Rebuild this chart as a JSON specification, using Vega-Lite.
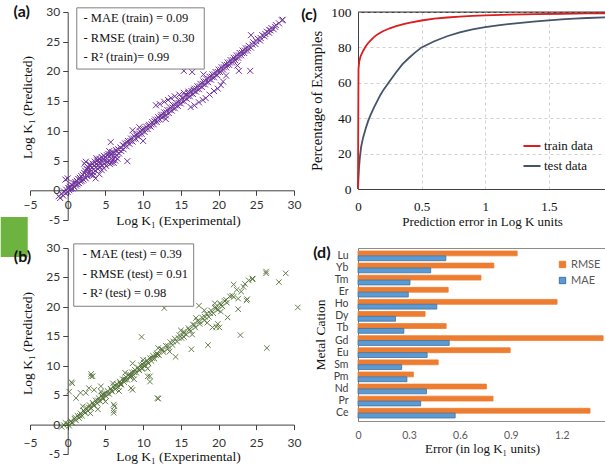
{
"$schema": "https://vega.github.io/schema/vega-lite/v6.json",
"padding": {"left": 0, "top": 4, "right": 0, "bottom": 0},
"background": "white",
"bounds": "flush",
"columns": 2,
"spacing": {"row": 28, "column": 64},
"config": {"view": {"stroke": null}, "axis": {"titleFontWeight": "normal", "labelColor": "#222222", "titleColor": "#111111", "labelFlush": false, "labelOverlap": false, "tickCount": 20}},
"datasets": {
"ylabels": [{"v":-5,"lab":"-5"},{"v":0,"lab":"0"},{"v":5,"lab":"5"},{"v":10,"lab":"10"},{"v":15,"lab":"15"},{"v":20,"lab":"20"},{"v":25,"lab":"25"},{"v":30,"lab":"30"}],
"train": [
{"x":-1.2,"y":-1.0},{"x":-1.0,"y":-1.3},{"x":-0.8,"y":-0.6},{"x":-0.6,"y":-0.9},{"x":-0.5,"y":-0.2},{"x":-0.3,"y":-0.5},{"x":-0.2,"y":0.1},{"x":0,"y":-0.3},{"x":0.1,"y":0.4},{"x":0.2,"y":0.0},{"x":0.3,"y":0.6},{"x":0.4,"y":0.2},{"x":0.5,"y":0.9},{"x":0.6,"y":0.3},{"x":0.7,"y":0.8},{"x":0.8,"y":1.2},{"x":0.9,"y":0.5},{"x":1.0,"y":1.4},{"x":1.1,"y":0.8},{"x":1.2,"y":1.6},{"x":1.3,"y":1.0},{"x":1.4,"y":1.9},{"x":1.5,"y":1.2},{"x":1.6,"y":2.1},{"x":1.7,"y":1.5},{"x":1.8,"y":2.4},{"x":1.9,"y":1.6},{"x":2.0,"y":2.6},{"x":2.1,"y":1.8},
{"x":2.2,"y":2.9},{"x":2.3,"y":3.3},{"x":2.4,"y":2.0},{"x":2.5,"y":3.6},{"x":2.6,"y":2.4},{"x":2.7,"y":3.9},{"x":2.8,"y":2.7},{"x":2.9,"y":3.4},{"x":3.0,"y":4.2},{"x":3.1,"y":2.6},{"x":3.2,"y":3.8},{"x":3.3,"y":4.5},{"x":3.4,"y":3.0},{"x":3.5,"y":4.1},{"x":3.6,"y":4.8},{"x":3.7,"y":3.3},{"x":3.8,"y":4.4},{"x":3.9,"y":5.0},{"x":4.0,"y":3.6},{"x":4.1,"y":4.7},{"x":4.2,"y":5.3},{"x":4.3,"y":3.9},{"x":4.4,"y":5.0},{"x":4.5,"y":5.6},{"x":4.6,"y":4.2},{"x":4.7,"y":5.2},{"x":4.8,"y":5.8},{"x":4.9,"y":4.5},{"x":5.0,"y":5.5},{"x":5.1,"y":4.1},{"x":5.2,"y":5.9},{"x":5.3,"y":4.8},{"x":5.4,"y":6.1},{"x":5.5,"y":5.0},{"x":5.6,"y":4.4},{"x":5.7,"y":6.0},{"x":5.8,"y":5.3},{"x":5.9,"y":6.4},{"x":6.0,"y":5.1},{"x":6.1,"y":4.6},{"x":6.2,"y":6.3},{"x":6.3,"y":5.6},{"x":6.4,"y":6.8},{"x":6.5,"y":5.9},{"x":6.6,"y":5.3},{"x":6.7,"y":6.9},{"x":6.8,"y":6.2},{"x":7.0,"y":7.2},{"x":7.1,"y":6.6},{"x":7.3,"y":7.6},{"x":7.4,"y":6.9},
{"x":7.6,"y":7.9},{"x":7.8,"y":7.4},{"x":8.0,"y":8.3},{"x":8.2,"y":7.8},{"x":8.4,"y":8.7},{"x":8.6,"y":8.2},{"x":8.8,"y":9.1},{"x":9.0,"y":8.7},{"x":9.2,"y":9.5},{"x":9.4,"y":9.0},{"x":9.6,"y":9.9},{"x":9.8,"y":9.5},{"x":10.0,"y":10.3},{"x":10.2,"y":9.8},{"x":10.4,"y":10.7},{"x":10.6,"y":10.3},{"x":10.8,"y":11.0},{"x":11.0,"y":10.7},{"x":11.2,"y":11.5},{"x":11.4,"y":11.1},{"x":11.6,"y":11.9},{"x":11.8,"y":11.5},{"x":12.0,"y":12.3},
{"x":12.2,"y":11.9},{"x":12.4,"y":12.7},{"x":12.6,"y":12.3},{"x":12.8,"y":13.1},{"x":13.0,"y":12.6},{"x":13.2,"y":13.5},{"x":13.4,"y":13.0},{"x":13.6,"y":13.9},{"x":13.8,"y":13.4},{"x":14.0,"y":14.3},{"x":14.2,"y":13.8},{"x":14.4,"y":14.7},{"x":14.6,"y":14.2},{"x":14.8,"y":15.1},{"x":15.0,"y":14.6},{"x":15.2,"y":15.5},{"x":15.4,"y":15.0},{"x":15.6,"y":15.9},{"x":15.8,"y":15.4},{"x":16.0,"y":16.3},{"x":16.2,"y":15.8},{"x":16.4,"y":16.7},{"x":16.6,"y":16.2},{"x":16.8,"y":17.1},{"x":17.0,"y":16.6},{"x":17.2,"y":17.5},{"x":17.4,"y":17.0},{"x":17.6,"y":17.9},{"x":17.8,"y":17.4},{"x":18.0,"y":18.3},{"x":18.2,"y":17.8},{"x":18.4,"y":18.7},{"x":18.6,"y":18.2},{"x":18.8,"y":19.1},{"x":19.0,"y":18.6},{"x":19.2,"y":19.5},{"x":19.4,"y":19.0},{"x":19.6,"y":19.9},{"x":19.8,"y":19.4},{"x":20.0,"y":20.3},
{"x":20.2,"y":19.9},{"x":20.4,"y":20.7},{"x":20.6,"y":20.3},{"x":20.8,"y":21.1},{"x":21.0,"y":20.7},{"x":21.2,"y":21.5},{"x":21.4,"y":21.1},{"x":21.6,"y":21.9},{"x":21.8,"y":21.5},{"x":22.0,"y":22.3},{"x":22.2,"y":21.9},{"x":22.4,"y":22.7},{"x":22.6,"y":22.3},{"x":22.8,"y":23.1},{"x":23.0,"y":22.7},{"x":23.2,"y":23.5},{"x":23.4,"y":23.1},{"x":23.6,"y":23.9},{"x":23.8,"y":23.5},{"x":24.0,"y":24.3},{"x":24.3,"y":24.0},{"x":24.6,"y":24.9},{"x":24.9,"y":24.6},{"x":25.2,"y":25.5},{"x":25.5,"y":25.2},{"x":25.8,"y":26.1},{"x":26.1,"y":25.9},{"x":26.4,"y":26.7},{"x":26.7,"y":26.5},{"x":27.0,"y":27.3},{"x":27.3,"y":27.1},{"x":27.6,"y":27.8},{"x":28.0,"y":28.1},{"x":28.4,"y":28.6},
{"x":0.15,"y":0.3},{"x":0.45,"y":0.5},{"x":0.75,"y":0.7},{"x":1.05,"y":1.1},{"x":1.35,"y":1.3},{"x":1.65,"y":1.8},{"x":1.95,"y":2.0},{"x":2.25,"y":2.3},{"x":2.55,"y":2.6},{"x":2.85,"y":3.0},{"x":3.15,"y":3.2},{"x":3.45,"y":3.5},{"x":3.75,"y":3.9},{"x":4.05,"y":4.1},{"x":4.35,"y":4.4},{"x":4.65,"y":4.8},{"x":4.95,"y":5.0},{"x":5.25,"y":5.3},{"x":5.55,"y":5.7},{"x":5.85,"y":5.9},{"x":6.15,"y":6.2},{"x":6.45,"y":6.5},{"x":6.75,"y":6.8},{"x":7.05,"y":7.1},{"x":7.45,"y":7.5},{"x":7.9,"y":8.0},{"x":8.3,"y":8.3},{"x":8.7,"y":8.7},{"x":9.1,"y":9.2},{"x":9.5,"y":9.5},{"x":9.9,"y":10.0},{"x":10.3,"y":10.3},{"x":10.7,"y":10.8},{"x":11.1,"y":11.1},{"x":11.5,"y":11.6},{"x":11.9,"y":11.9},{"x":12.3,"y":12.4},{"x":12.7,"y":12.7},{"x":13.1,"y":13.1},{"x":13.5,"y":13.5},{"x":13.9,"y":13.9},{"x":14.3,"y":14.3},{"x":14.7,"y":14.7},{"x":15.1,"y":15.1},{"x":15.5,"y":15.5},{"x":15.9,"y":15.9},{"x":16.3,"y":16.3},{"x":16.7,"y":16.7},{"x":17.1,"y":17.1},{"x":17.5,"y":17.5},{"x":17.9,"y":17.9},{"x":18.3,"y":18.3},{"x":18.7,"y":18.7},{"x":19.1,"y":19.1},{"x":19.5,"y":19.5},{"x":19.9,"y":19.9},{"x":20.3,"y":20.3},{"x":20.7,"y":20.7},{"x":21.1,"y":21.1},{"x":21.5,"y":21.5},{"x":21.9,"y":21.9},{"x":22.3,"y":22.3},{"x":22.7,"y":22.7},{"x":23.1,"y":23.1},{"x":23.5,"y":23.5},{"x":23.9,"y":23.9},{"x":24.5,"y":24.5},{"x":25.0,"y":25.1},{"x":25.6,"y":25.6},{"x":26.2,"y":26.3},{"x":26.9,"y":26.9},{"x":27.5,"y":27.5},
{"x":2.6,"y":3.5},{"x":3.4,"y":2.5},{"x":4.0,"y":5.1},{"x":4.8,"y":3.7},{"x":5.5,"y":6.6},{"x":6.3,"y":5.0},{"x":2.9,"y":4.4},{"x":4.5,"y":3.4},{"x":5.8,"y":4.6},{"x":3.8,"y":5.4},
{"x":11.7,"y":14.3},{"x":12.2,"y":14.5},{"x":12.8,"y":14.9},{"x":13.3,"y":15.2},{"x":13.7,"y":15.5},{"x":14.2,"y":15.8},{"x":14.8,"y":16.1},{"x":15.4,"y":16.4},{"x":16.0,"y":16.6},{"x":16.7,"y":16.9},
{"x":16.3,"y":14.0},{"x":16.8,"y":14.3},{"x":17.4,"y":14.8},{"x":17.9,"y":15.2},{"x":18.3,"y":15.5},{"x":18.8,"y":16.1},{"x":19.4,"y":16.7},{"x":19.9,"y":17.1},{"x":20.3,"y":17.7},{"x":20.6,"y":18.3},
{"x":15.4,"y":20.1},{"x":16.5,"y":19.9},{"x":22.7,"y":20.1},{"x":24.2,"y":20.1},{"x":0.0,"y":2.0},{"x":-0.3,"y":1.8},{"x":2.4,"y":4.8},{"x":3.7,"y":2.0},{"x":4.2,"y":2.7},{"x":5.7,"y":8.1},{"x":10.0,"y":8.3},{"x":8.6,"y":10.1},{"x":7.9,"y":4.9},{"x":2.2,"y":4.5},{"x":24.3,"y":26.1},{"x":26.7,"y":27.0},{"x":28.5,"y":28.7},{"x":21.0,"y":19.3},{"x":22.5,"y":21.0},{"x":18.0,"y":19.5},{"x":13.0,"y":12.0},{"x":9.5,"y":10.6}
],
"test": [
{"x":-0.8,"y":-0.4},{"x":-0.5,"y":-0.1},{"x":-0.3,"y":0.3},{"x":0,"y":0.1},{"x":0.2,"y":-0.2},{"x":0.4,"y":0.6},{"x":0.6,"y":0.3},{"x":0.9,"y":1.0},{"x":1.1,"y":0.7},{"x":1.3,"y":1.5},{"x":1.5,"y":1.1},{"x":1.7,"y":1.9},{"x":1.9,"y":1.5},{"x":2.1,"y":2.4},{"x":2.3,"y":2.0},{"x":2.5,"y":2.8},{"x":2.7,"y":2.3},{"x":2.9,"y":3.3},{"x":3.1,"y":2.8},{"x":3.3,"y":3.7},{"x":3.5,"y":3.2},{"x":3.7,"y":4.1},{"x":3.9,"y":3.6},{"x":4.1,"y":4.5},{"x":4.3,"y":4.0},{"x":4.5,"y":4.9},{"x":4.7,"y":4.4},{"x":4.9,"y":5.3},{"x":5.1,"y":4.8},{"x":5.3,"y":5.7},{"x":5.5,"y":5.2},{"x":5.7,"y":6.1},{"x":5.9,"y":5.6},{"x":6.1,"y":6.5},{"x":6.3,"y":6.0},{"x":6.5,"y":6.9},{"x":6.7,"y":6.4},{"x":6.9,"y":7.3},{"x":7.1,"y":6.8},{"x":7.3,"y":7.7},{"x":7.5,"y":7.2},{"x":7.7,"y":8.1},{"x":7.9,"y":7.6},{"x":8.1,"y":8.5},{"x":8.3,"y":8.0},{"x":8.5,"y":8.9},{"x":8.7,"y":8.4},{"x":8.9,"y":9.3},{"x":9.1,"y":8.8},{"x":9.3,"y":9.7},{"x":9.5,"y":9.2},{"x":9.7,"y":10.1},{"x":9.9,"y":9.6},{"x":10.1,"y":10.5},{"x":10.3,"y":10.0},{"x":10.5,"y":10.9},{"x":10.7,"y":10.4},{"x":10.9,"y":11.3},{"x":11.1,"y":10.8},{"x":11.3,"y":11.7},{"x":11.5,"y":11.2},{"x":11.8,"y":12.1},{"x":12.1,"y":11.8},{"x":12.4,"y":12.8},{"x":12.7,"y":12.3},{"x":13.0,"y":13.4},{"x":13.3,"y":12.9},{"x":13.6,"y":14.0},{"x":13.9,"y":13.5},{"x":14.2,"y":14.6},{"x":14.5,"y":14.1},{"x":14.8,"y":15.2},{"x":15.1,"y":14.7},{"x":15.4,"y":15.8},{"x":15.7,"y":15.3},{"x":16.0,"y":16.4},{"x":16.3,"y":15.9},{"x":16.6,"y":17.0},{"x":16.9,"y":16.5},{"x":17.2,"y":17.6},{"x":17.5,"y":17.1},{"x":17.8,"y":18.2},{"x":18.1,"y":17.7},{"x":18.4,"y":18.8},{"x":18.7,"y":18.3},{"x":19.0,"y":19.4},{"x":19.3,"y":18.9},{"x":19.6,"y":20.0},{"x":19.9,"y":19.5},{"x":20.2,"y":20.6},{"x":20.5,"y":20.1},{"x":20.8,"y":21.0},{"x":21.1,"y":20.7},{"x":21.5,"y":21.8},{"x":22.0,"y":21.7},{"x":22.4,"y":22.9},{"x":23.0,"y":22.6},{"x":23.5,"y":23.9},{"x":24.0,"y":24.5},{"x":24.5,"y":24.8},{"x":23.3,"y":23.4},
{"x":0.5,"y":0.4},{"x":1.0,"y":1.2},{"x":1.6,"y":1.5},{"x":2.2,"y":2.2},{"x":2.8,"y":2.9},{"x":3.4,"y":3.4},{"x":4.0,"y":4.1},{"x":4.6,"y":4.6},{"x":5.2,"y":5.3},{"x":5.8,"y":5.8},{"x":6.4,"y":6.5},{"x":7.0,"y":7.0},{"x":7.6,"y":7.7},{"x":8.2,"y":8.2},{"x":8.8,"y":8.9},{"x":9.4,"y":9.4},{"x":10.0,"y":10.1},{"x":10.6,"y":10.6},{"x":11.2,"y":11.3},{"x":11.9,"y":11.9},{"x":12.6,"y":12.7},{"x":13.3,"y":13.3},{"x":14.0,"y":14.1},{"x":14.7,"y":14.7},{"x":15.4,"y":15.5},{"x":16.1,"y":16.1},{"x":16.8,"y":16.9},{"x":17.5,"y":17.5},{"x":18.2,"y":18.3},{"x":18.9,"y":18.9},{"x":19.6,"y":19.7},{"x":20.3,"y":20.3},{"x":21.0,"y":21.2},{"x":21.8,"y":21.9},
{"x":2.0,"y":3.1},{"x":3.0,"y":1.9},{"x":4.4,"y":5.6},{"x":5.0,"y":3.9},{"x":6.0,"y":7.0},{"x":6.8,"y":5.7},{"x":7.6,"y":8.8},{"x":8.8,"y":7.7},{"x":10.0,"y":11.0},{"x":10.6,"y":9.5},{"x":12.0,"y":13.0},{"x":13.5,"y":12.4},{"x":15.0,"y":16.0},{"x":16.5,"y":15.3},{"x":17.0,"y":18.1},{"x":18.5,"y":17.3},{"x":19.5,"y":20.6},{"x":20.3,"y":19.2},
{"x":26.3,"y":26.0},{"x":26.3,"y":25.7},{"x":28.9,"y":25.7},{"x":28.0,"y":24.2},{"x":30.5,"y":19.9},{"x":24.5,"y":24.7},{"x":22.6,"y":21.4},{"x":23.7,"y":21.1},{"x":22.6,"y":19.6},{"x":22.9,"y":15.2},{"x":26.4,"y":13.0},{"x":19.9,"y":17.1},{"x":19.7,"y":16.6},{"x":18.6,"y":13.5},{"x":16.4,"y":12.8},{"x":14.3,"y":11.5},{"x":12.8,"y":19.8},{"x":12.0,"y":4.4},{"x":9.8,"y":9.5},{"x":10.9,"y":8.2},{"x":9.8,"y":14.9},{"x":8.4,"y":8.4},{"x":8.6,"y":5.9},{"x":6.1,"y":2.0},{"x":6.2,"y":3.1},{"x":4.0,"y":2.6},{"x":3.1,"y":8.2},{"x":3.1,"y":8.6},{"x":2.8,"y":6.2},{"x":1.7,"y":5.4},{"x":0.5,"y":7.2},{"x":0.2,"y":5.6},{"x":1.1,"y":4.5},{"x":4.6,"y":5.1},{"x":7.0,"y":6.8},{"x":7.5,"y":7.6},{"x":17.4,"y":20.2},{"x":18.1,"y":19.4},{"x":22.0,"y":23.8},{"x":23.8,"y":21.3},{"x":21.2,"y":18.2},{"x":20.1,"y":16.5},{"x":19.2,"y":16.5},{"x":15.4,"y":14.9},{"x":8.6,"y":10.4},{"x":3.3,"y":8.2},{"x":0.6,"y":7.0},{"x":2.4,"y":5.4},{"x":3.5,"y":5.9},{"x":4.4,"y":6.5},{"x":8.4,"y":6.2},{"x":6.1,"y":3.4},{"x":6.1,"y":2.4},{"x":10.6,"y":8.2},{"x":10.9,"y":7.3},{"x":11.9,"y":4.5},{"x":11.7,"y":11.8}
],
"cdf": [
{"s":"test data","e":0,"p":0},{"s":"test data","e":0.003,"p":5},{"s":"test data","e":0.008,"p":12},{"s":"test data","e":0.015,"p":18},{"s":"test data","e":0.025,"p":24},{"s":"test data","e":0.04,"p":29},{"s":"test data","e":0.06,"p":34},{"s":"test data","e":0.08,"p":38.5},{"s":"test data","e":0.1,"p":42},{"s":"test data","e":0.125,"p":46},{"s":"test data","e":0.15,"p":49.5},{"s":"test data","e":0.175,"p":53},{"s":"test data","e":0.2,"p":56},{"s":"test data","e":0.25,"p":61},{"s":"test data","e":0.3,"p":66},{"s":"test data","e":0.35,"p":70.5},{"s":"test data","e":0.4,"p":74},{"s":"test data","e":0.45,"p":77.2},{"s":"test data","e":0.5,"p":80},{"s":"test data","e":0.6,"p":83.5},{"s":"test data","e":0.7,"p":86.3},{"s":"test data","e":0.8,"p":88.5},{"s":"test data","e":0.9,"p":90.2},{"s":"test data","e":1.0,"p":91.5},{"s":"test data","e":1.1,"p":92.5},{"s":"test data","e":1.2,"p":93.3},{"s":"test data","e":1.3,"p":94},{"s":"test data","e":1.4,"p":94.7},{"s":"test data","e":1.5,"p":95.3},{"s":"test data","e":1.6,"p":95.8},{"s":"test data","e":1.7,"p":96.2},{"s":"test data","e":1.8,"p":96.6},{"s":"test data","e":1.95,"p":97},
{"s":"train data","e":0,"p":0},{"s":"train data","e":0.002,"p":40},{"s":"train data","e":0.004,"p":68},{"s":"train data","e":0.01,"p":72},{"s":"train data","e":0.02,"p":75},{"s":"train data","e":0.04,"p":78},{"s":"train data","e":0.06,"p":80.5},{"s":"train data","e":0.08,"p":82.5},{"s":"train data","e":0.1,"p":84},{"s":"train data","e":0.125,"p":85.8},{"s":"train data","e":0.15,"p":87.2},{"s":"train data","e":0.175,"p":88.3},{"s":"train data","e":0.2,"p":89.3},{"s":"train data","e":0.25,"p":90.8},{"s":"train data","e":0.3,"p":92},{"s":"train data","e":0.35,"p":93},{"s":"train data","e":0.4,"p":93.8},{"s":"train data","e":0.5,"p":95.2},{"s":"train data","e":0.6,"p":96.2},{"s":"train data","e":0.7,"p":96.9},{"s":"train data","e":0.8,"p":97.4},{"s":"train data","e":0.9,"p":97.8},{"s":"train data","e":1.0,"p":98.1},{"s":"train data","e":1.2,"p":98.5},{"s":"train data","e":1.4,"p":98.8},{"s":"train data","e":1.6,"p":99},{"s":"train data","e":1.8,"p":99.2},{"s":"train data","e":1.95,"p":99.3}
],
"errors": [
{"cation":"Lu","metric":"RMSE","value":0.937},{"cation":"Lu","metric":"MAE","value":0.517},
{"cation":"Yb","metric":"RMSE","value":0.80},{"cation":"Yb","metric":"MAE","value":0.428},
{"cation":"Tm","metric":"RMSE","value":0.724},{"cation":"Tm","metric":"MAE","value":0.306},
{"cation":"Er","metric":"RMSE","value":0.531},{"cation":"Er","metric":"MAE","value":0.296},
{"cation":"Ho","metric":"RMSE","value":1.172},{"cation":"Ho","metric":"MAE","value":0.464},
{"cation":"Dy","metric":"RMSE","value":0.395},{"cation":"Dy","metric":"MAE","value":0.221},
{"cation":"Tb","metric":"RMSE","value":0.519},{"cation":"Tb","metric":"MAE","value":0.270},
{"cation":"Gd","metric":"RMSE","value":1.443},{"cation":"Gd","metric":"MAE","value":0.537},
{"cation":"Eu","metric":"RMSE","value":0.896},{"cation":"Eu","metric":"MAE","value":0.407},
{"cation":"Sm","metric":"RMSE","value":0.472},{"cation":"Sm","metric":"MAE","value":0.257},
{"cation":"Pm","metric":"RMSE","value":0.326},{"cation":"Pm","metric":"MAE","value":0.288},
{"cation":"Nd","metric":"RMSE","value":0.756},{"cation":"Nd","metric":"MAE","value":0.403},
{"cation":"Pr","metric":"RMSE","value":0.795},{"cation":"Pr","metric":"MAE","value":0.369},
{"cation":"Ce","metric":"RMSE","value":1.366},{"cation":"Ce","metric":"MAE","value":0.572}
]
},
"concat": [
{
"width": 264, "height": 208,
"layer": [
{"data": {"name": "train"},
 "mark": {"type": "point", "shape": "M-1,-1L1,1M-1,1L1,-1", "filled": false, "size": 36, "strokeWidth": 1, "color": "#7030A0", "opacity": 1},
 "encoding": {
  "x": {"field": "x", "type": "quantitative", "scale": {"domain": [-5, 30], "nice": false, "zero": false},
        "axis": {"title": "Log K₁ (Experimental)", "values": [-5,0,5,10,15,20,25,30], "tickCount": 20, "labelOverlap": false, "offset": -29.7, "grid": false, "tickSize": 5, "labelPadding": 4, "labelFont": "Lato", "labelFontSize": 12, "labelColor": "#333333", "domainColor": "#404040", "tickColor": "#404040", "titleFont": "Liberation Serif", "titleFontSize": 13.5, "titlePadding": 3, "titleX": 148}},
  "y": {"field": "y", "type": "quantitative", "scale": {"domain": [-5, 30], "nice": false, "zero": false},
        "axis": {"title": "Log K₁ (Predicted)", "values": [-5,0,5,10,15,20,25,30], "tickCount": 20, "labels": false, "offset": -37.7, "grid": false, "tickSize": 5, "domainColor": "#404040", "tickColor": "#404040", "titleFont": "Liberation Serif", "titleFontSize": 13.5, "titlePadding": 28, "titleY": 95}}
 }},
{"data": {"values": [{"x": -1.2, "y": -1.2}, {"x": 28.6, "y": 28.6}]},
 "mark": {"type": "line", "color": "#A8A8A8", "strokeDash": [3, 2], "strokeWidth": 1},
 "encoding": {"x": {"field": "x", "type": "quantitative"}, "y": {"field": "y", "type": "quantitative"}}},
{"data": {"name": "ylabels"},
 "mark": {"type": "text", "align": "right", "baseline": "middle", "font": "Lato", "fontSize": 12, "color": "#333333"},
 "encoding": {"x": {"datum": -1.0}, "y": {"field": "v", "type": "quantitative"}, "text": {"field": "lab", "type": "nominal"}}},
{"data": {"values": [{}]},
 "mark": {"type": "rect", "fill": "white", "stroke": "#7F7F7F", "strokeWidth": 1},
 "encoding": {"x": {"datum": 1.2}, "x2": {"datum": 18.1}, "y": {"datum": 20.4}, "y2": {"datum": 30.7}}},
{"data": {"values": [{}]},
 "mark": {"type": "text", "text": ["- MAE (train) = 0.09", "- RMSE (train) = 0.30", "- R² (train)= 0.99"], "lineHeight": 19.6, "align": "left", "baseline": "top", "font": "Liberation Serif", "fontSize": 12.5, "color": "#111111"},
 "encoding": {"x": {"datum": 2.1}, "y": {"datum": 30.0}}},
{"data": {"values": [{}]},
 "mark": {"type": "text", "text": "(a)", "font": "Lato", "fontWeight": "bold", "fontSize": 16, "color": "#111111", "baseline": "middle"},
 "encoding": {"x": {"datum": -6.1}, "y": {"datum": 30}}}
]
},
{
"width": 248, "height": 177,
"view": {"stroke": "#404040"},
"layer": [
{"data": {"name": "cdf"},
 "mark": {"type": "line", "strokeWidth": 1.8},
 "encoding": {
  "x": {"field": "e", "type": "quantitative", "scale": {"domain": [0, 1.95], "nice": false},
        "axis": {"title": "Prediction error in Log K units", "values": [0, 0.5, 1, 1.5], "tickCount": 20, "labelOverlap": false, "format": "~g", "grid": true, "gridDash": [3, 3], "gridColor": "#D0D0D0", "ticks": false, "domainColor": "#404040", "labelFont": "Liberation Serif", "labelFontSize": 13, "labelPadding": 11, "labelColor": "#111111", "titleFont": "Liberation Serif", "titleFontSize": 13, "titlePadding": 2}},
  "y": {"field": "p", "type": "quantitative", "scale": {"domain": [0, 100], "nice": false},
        "axis": {"title": "Percentage of Examples", "values": [0, 20, 40, 60, 80, 100], "tickCount": 20, "labelOverlap": false, "grid": true, "gridDash": [3, 3], "gridColor": "#D0D0D0", "ticks": false, "domainColor": "#404040", "labelFont": "Liberation Serif", "labelFontSize": 13.5, "labelPadding": 7, "labelColor": "#111111", "titleFont": "Liberation Serif", "titleFontSize": 14.5, "titlePadding": 6}},
  "color": {"field": "s", "type": "nominal", "scale": {"domain": ["train data", "test data"], "range": ["#DD1C1C", "#44546A"]},
        "legend": {"orient": "none", "legendX": 492, "legendY": 124, "title": null, "symbolType": "stroke", "symbolSize": 290, "symbolStrokeWidth": 2, "labelFont": "Liberation Serif", "labelFontSize": 13, "labelColor": "#111111", "rowPadding": 3, "labelOffset": 2, "padding": 0}}
 }},
{"data": {"values": [{}]},
 "mark": {"type": "rule", "color": "#404040", "strokeWidth": 1.2},
 "encoding": {"y": {"datum": 100}}},
{"data": {"values": [{}]},
 "mark": {"type": "text", "text": "(c)", "font": "Lato", "fontWeight": "bold", "fontSize": 16, "color": "#111111", "baseline": "middle"},
 "encoding": {"x": {"datum": -0.385}, "y": {"datum": 98.3}}}
]
},
{
"width": 264, "height": 206,
"layer": [
{"data": {"name": "test"},
 "mark": {"type": "point", "shape": "M-1,-1L1,1M-1,1L1,-1", "filled": false, "size": 30, "strokeWidth": 1, "color": "#4A6A2C", "opacity": 0.85},
 "encoding": {
  "x": {"field": "x", "type": "quantitative", "scale": {"domain": [-5, 30], "nice": false, "zero": false},
        "axis": {"title": "Log K₁ (Experimental)", "values": [-5,0,5,10,15,20,25,30], "tickCount": 20, "labelOverlap": false, "offset": -29.4, "grid": false, "tickSize": 5, "labelPadding": 8, "labelFont": "Lato", "labelFontSize": 12, "labelColor": "#333333", "domainColor": "#404040", "tickColor": "#404040", "titleFont": "Liberation Serif", "titleFontSize": 13.5, "titlePadding": 1, "titleX": 148}},
  "y": {"field": "y", "type": "quantitative", "scale": {"domain": [-5, 30], "nice": false, "zero": false},
        "axis": {"title": "Log K₁ (Predicted)", "values": [-5,0,5,10,15,20,25,30], "tickCount": 20, "labels": false, "offset": -37.7, "grid": false, "tickSize": 5, "domainColor": "#404040", "tickColor": "#404040", "titleFont": "Liberation Serif", "titleFontSize": 13.5, "titlePadding": 28, "titleY": 95}}
 }},
{"data": {"name": "ylabels"},
 "mark": {"type": "text", "align": "right", "baseline": "middle", "font": "Lato", "fontSize": 12, "color": "#333333"},
 "encoding": {"x": {"datum": -1.0}, "y": {"field": "v", "type": "quantitative"}, "text": {"field": "lab", "type": "nominal"}}},
{"data": {"values": [{}]},
 "mark": {"type": "rect", "fill": "white", "stroke": "#7F7F7F", "strokeWidth": 1},
 "encoding": {"x": {"datum": 0.8}, "x2": {"datum": 16.7}, "y": {"datum": 20.1}, "y2": {"datum": 30.7}}},
{"data": {"values": [{}]},
 "mark": {"type": "text", "text": ["- MAE (test) = 0.39", "- RMSE (test) = 0.91", "- R² (test) = 0.98"], "lineHeight": 19.5, "align": "left", "baseline": "top", "font": "Liberation Serif", "fontSize": 12.5, "color": "#111111"},
 "encoding": {"x": {"datum": 2.0}, "y": {"datum": 30.0}}},
{"data": {"values": [{}]},
 "mark": {"type": "rect", "fill": "#6DB33F"},
 "encoding": {"x": {"datum": -8.88}, "x2": {"datum": -5.3}, "y": {"datum": 35.27}, "y2": {"datum": 28.47}}},
{"data": {"values": [{}]},
 "mark": {"type": "text", "text": "(b)", "font": "Lato", "fontWeight": "bold", "fontSize": 16, "color": "#111111", "baseline": "middle"},
 "encoding": {"x": {"datum": -6.0}, "y": {"datum": 28.5}}}
]
},
{
"width": 248, "height": 173,
"view": {"stroke": "#8C8C8C"},
"title": {"text": "(d)", "anchor": "start", "frame": "bounds", "orient": "top", "offset": -13, "font": "Lato", "fontWeight": "bold", "fontSize": 16, "color": "#111111"},
"data": {"name": "errors"},
"mark": {"type": "bar", "strokeWidth": 0.8},
"encoding": {
 "y": {"field": "cation", "type": "nominal", "sort": ["Lu","Yb","Tm","Er","Ho","Dy","Tb","Gd","Eu","Sm","Pm","Nd","Pr","Ce"], "scale": {"paddingInner": 0.2, "paddingOuter": 0.25},
       "axis": {"title": "Metal Cation", "ticks": false, "domainColor": "#7F7F7F", "labelFont": "Lato", "labelFontSize": 10.5, "labelColor": "#404040", "labelPadding": 10, "titleFont": "Liberation Serif", "titleFontSize": 13.5, "titlePadding": 6}},
 "yOffset": {"field": "metric", "type": "nominal", "sort": ["RMSE", "MAE"], "scale": {"paddingInner": 0}},
 "x": {"field": "value", "type": "quantitative", "scale": {"domain": [0, 1.46], "nice": false},
       "axis": {"title": "Error (in log K₁ units)", "values": [0, 0.3, 0.6, 0.9, 1.2], "tickCount": 20, "labelOverlap": false, "format": "~g", "ticks": false, "grid": false, "domainColor": "#8C8C8C", "labelFont": "Lato", "labelFontSize": 10.5, "labelColor": "#595959", "labelPadding": 9, "titleFont": "Liberation Serif", "titleFontSize": 13, "titlePadding": 2}},
 "fill": {"field": "metric", "type": "nominal", "scale": {"domain": ["RMSE", "MAE"], "range": ["#ED7D31", "#5B9BD5"]},
       "legend": {"orient": "none", "legendX": 527, "legendY": 247, "title": null, "symbolType": "square", "symbolSize": 40, "symbolStrokeWidth": 1, "labelFont": "Lato", "labelFontSize": 11, "labelColor": "#595959", "rowPadding": 4, "labelOffset": 3, "padding": 0}},
 "stroke": {"field": "metric", "type": "nominal", "scale": {"domain": ["RMSE", "MAE"], "range": ["#ED7D31", "#41719C"]}}
}
}
]
}
